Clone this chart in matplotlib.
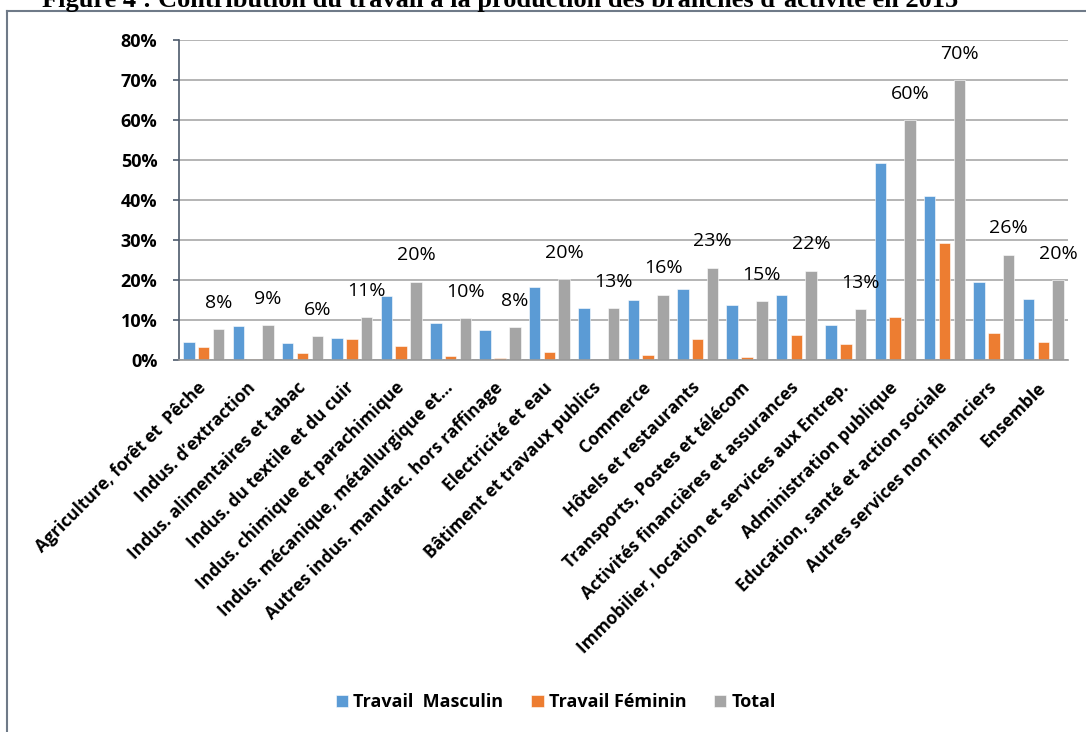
import numpy as np
import matplotlib.pyplot as plt
from matplotlib.lines import Line2D

plt.rcParams['font.family'] = ['Open Sans', 'DejaVu Sans']

categories = [
    "Agriculture, forêt et  Pêche",
    "Indus. d’extraction",
    "Indus. alimentaires et tabac",
    "Indus. du textile et du cuir",
    "Indus. chimique et parachimique",
    "Indus. mécanique, métallurgique et…",
    "Autres indus. manufac. hors raffinage",
    "Electricité et eau",
    "Bâtiment et travaux publics",
    "Commerce",
    "Hôtels et restaurants",
    "Transports, Postes et télécom",
    "Activités financières et assurances",
    "Immobilier, location et services aux Entrep.",
    "Administration publique",
    "Education, santé et action sociale",
    "Autres services non financiers",
    "Ensemble",
]
masculin = [0.046, 0.086, 0.043, 0.054, 0.160, 0.0925, 0.076, 0.182, 0.129,
            0.150, 0.178, 0.1375, 0.162, 0.087, 0.4925, 0.409, 0.195, 0.152]
feminin = [0.032, 0.002, 0.017, 0.0525, 0.035, 0.010, 0.005, 0.019, 0.000,
           0.0125, 0.052, 0.008, 0.062, 0.040, 0.107, 0.292, 0.0675, 0.046]
total = [0.0775, 0.0875, 0.060, 0.1075, 0.196, 0.104, 0.082, 0.202, 0.130,
         0.163, 0.231, 0.1475, 0.223, 0.127, 0.600, 0.700, 0.263, 0.200]
series_names = ["Travail  Masculin", "Travail Féminin", "Total"]
colors = ["#5B9BD5", "#ED7D31", "#A5A5A5"]

W, H = 1086, 732
fig = plt.figure(figsize=(W / 100, H / 100), dpi=100)
ax = fig.add_axes([179 / W, 1 - 360 / H, (1068 - 179) / W, 320 / H])

x = np.arange(len(categories))
width = 0.233
off = 0.30
for k, vals in enumerate([masculin, feminin, total]):
    ax.bar(x + (k - 1) * off, vals, width, color=colors[k], edgecolor="white",
           linewidth=0.4, label=series_names[k], zorder=2)

# data labels on total bars only
for i, t in enumerate(total):
    ax.annotate(f"{t:.0%}", (x[i] + off, t), xytext=(0, 19), textcoords="offset points",
                ha="center", va="center", fontsize=14, color="black")

ax.set_xlim(-0.5, len(categories) - 0.5)
ax.set_ylim(0, 0.8)
yt = np.arange(0, 0.81, 0.1)
ax.set_yticks(yt)
ax.set_yticklabels([f"{v:.0%}" for v in yt], fontsize=13, fontweight="bold")
ax.yaxis.grid(True, color="#A8A8A8", linewidth=1.2, zorder=0)
ax.set_axisbelow(True)

ax.set_xticks(x)
ax.set_xticklabels(categories, rotation=45, ha="right", va="center",
                   rotation_mode="anchor", fontsize=12.5, fontweight="bold")

for s in ["top", "right"]:
    ax.spines[s].set_visible(False)
ax.spines["left"].set_color("#4D5A6B")
ax.spines["left"].set_linewidth(1.2)
ax.spines["bottom"].set_color("#9A9A9A")
ax.spines["bottom"].set_linewidth(1.2)
ax.tick_params(axis="y", length=4.5, width=1.2, color="#4D5A6B", pad=11)
ax.tick_params(axis="x", length=0, pad=18)

fig.legend(loc="center", bbox_to_anchor=(556 / W, 1 - 702 / H), ncol=3, frameon=False,
           prop={"weight": "bold", "size": 13}, handlelength=0.67, handleheight=0.67,
           handletextpad=0.28, columnspacing=1.55)

# frame around the chart (only top and left visible)
fig.add_artist(Line2D([7 / W, 7 / W], [0, 1 - 11 / H], transform=fig.transFigure,
                      color="#6F7A88", linewidth=1.5))
fig.add_artist(Line2D([7 / W, 1], [1 - 11 / H, 1 - 11 / H], transform=fig.transFigure,
                      color="#6F7A88", linewidth=1.5))

fig.text(42 / W, 1 - 7 / H,
         "Figure 4 : Contribution du travail à la production des branches d’activité en 2015",
         fontfamily="Liberation Serif", fontweight="bold", fontsize=19,
         ha="left", va="baseline")

fig.savefig("out.png", dpi=100)
